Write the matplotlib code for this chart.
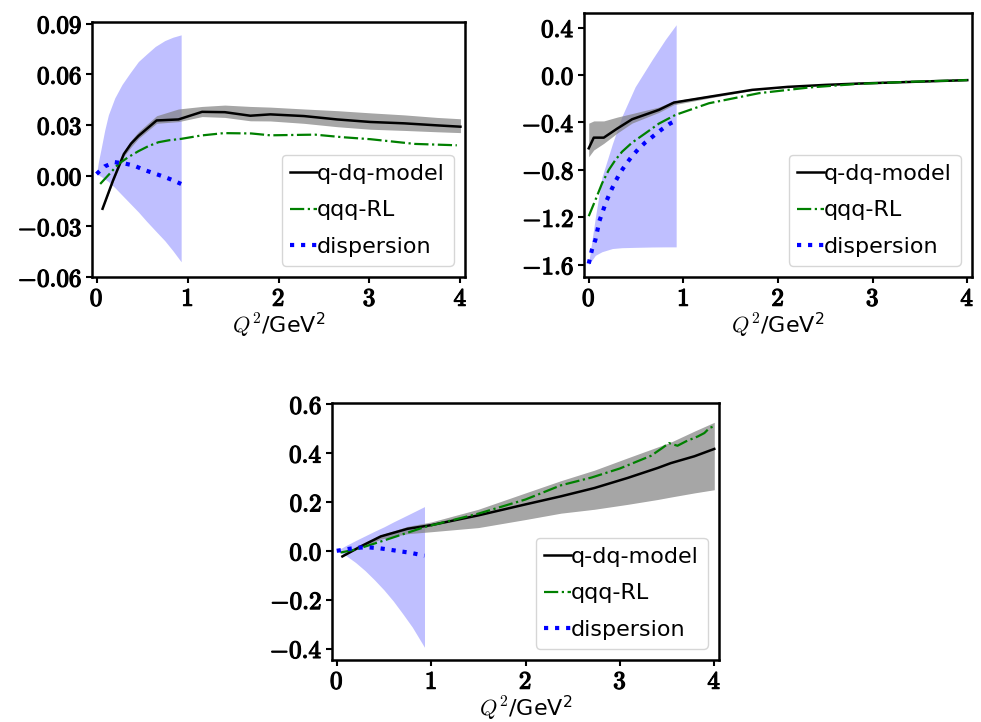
"""Form factor comparison: q-dq model, qqq-RL and dispersion results in three panels"""
import matplotlib.pyplot as plt
import matplotlib.patheffects as pe
import numpy as np
from matplotlib.ticker import FuncFormatter, FixedLocator

plt.rcParams['mathtext.fontset'] = 'cm'
plt.rcParams['font.family'] = 'DejaVu Sans'

# ---- panel (a) ----
a_disp_x = [0.0, 0.02, 0.05, 0.09, 0.13, 0.20, 0.28, 0.37, 0.46, 0.55, 0.645, 0.75, 0.84, 0.93]
a_disp_hi = [0.001, 0.008, 0.016, 0.027, 0.036, 0.046, 0.054, 0.061, 0.0676, 0.072, 0.0765,
             0.080, 0.082, 0.0834]
a_disp_lo = [0.001, 0.0005, -0.0005, -0.002, -0.0035, -0.007, -0.0115, -0.0165, -0.0215,
             -0.027, -0.0325, -0.0385, -0.0445, -0.051]
a_dcurve_x = [0.0, 0.09, 0.2, 0.31, 0.41, 0.52, 0.62, 0.74, 0.83, 0.93]
a_dcurve_y = [0.001, 0.0055, 0.008, 0.0072, 0.006, 0.0035, 0.0016, -0.0006, -0.0025, -0.0049]
a_qdq_x = [0.066, 0.18, 0.30, 0.38, 0.46, 0.66, 0.90, 1.16, 1.41, 1.69, 1.91, 2.28, 2.645, 3.01,
           3.38, 3.74, 4.0]
a_qdq_y = [-0.0196, -0.003, 0.0128, 0.019, 0.0235, 0.0327, 0.0333, 0.0378, 0.0376, 0.0355,
           0.0363, 0.0353, 0.0333, 0.0318, 0.031, 0.0298, 0.029]
a_qdq_hi = [-0.0196, -0.002, 0.0145, 0.021, 0.026, 0.0355, 0.0395, 0.041, 0.0418, 0.041, 0.0406,
            0.0395, 0.0385, 0.0372, 0.036, 0.0345, 0.0337]
a_qdq_lo = [-0.0196, -0.004, 0.0115, 0.017, 0.022, 0.031, 0.032, 0.035, 0.0345, 0.0325, 0.0324,
            0.031, 0.029, 0.0275, 0.0268, 0.026, 0.0255]
a_qqq_x = [0.04, 0.15, 0.24, 0.35, 0.46, 0.57, 0.68, 0.8, 0.93, 1.15, 1.4, 1.7, 1.91, 2.4, 2.7,
           3.01, 3.5, 3.96]
a_qqq_y = [-0.0049, 0.0015, 0.0069, 0.011, 0.0145, 0.0175, 0.0198, 0.021, 0.0218, 0.0238,
           0.0252, 0.025, 0.0239, 0.0243, 0.0228, 0.0216, 0.0188, 0.018]

# ---- panel (b) ----
b_disp_x = [0.0, 0.035, 0.07, 0.14, 0.25, 0.35, 0.49, 0.67, 0.81, 0.924]
b_disp_hi = [-1.58, -1.39, -1.2, -0.86, -0.58, -0.35, -0.10, 0.13, 0.30, 0.424]
b_disp_lo = [-1.60, -1.56, -1.52, -1.49, -1.463, -1.456, -1.453, -1.45, -1.449, -1.449]
b_dcurve_x = [0.0, 0.035, 0.07, 0.113, 0.183, 0.23, 0.275, 0.328, 0.388, 0.448, 0.522, 0.6,
              0.69, 0.769, 0.857, 0.92]
b_dcurve_y = [-1.59, -1.47, -1.39, -1.23, -1.07, -0.984, -0.908, -0.829, -0.758, -0.694,
              -0.626, -0.567, -0.51, -0.46, -0.41, -0.385]
b_qdq_x = [0.0, 0.053, 0.159, 0.3, 0.458, 0.741, 0.9, 1.3, 1.728, 2.1, 2.505, 2.85, 3.21, 3.6,
           4.0]
b_qdq_y = [-0.618, -0.528, -0.528, -0.452, -0.373, -0.294, -0.232, -0.18, -0.125, -0.1, -0.083,
           -0.072, -0.063, -0.053, -0.043]
b_qdq_hi = [-0.406, -0.387, -0.387, -0.355, -0.325, -0.27, -0.218, -0.168, -0.12, -0.096,
            -0.08, -0.07, -0.061, -0.052, -0.042]
b_qdq_lo = [-0.689, -0.632, -0.576, -0.49, -0.405, -0.315, -0.25, -0.19, -0.13, -0.104, -0.086,
            -0.074, -0.065, -0.055, -0.045]
b_qqq_x = [0.0, 0.07, 0.141, 0.212, 0.282, 0.353, 0.458, 0.599, 0.741, 0.917, 1.27, 1.80, 2.33,
           2.857, 3.386, 4.0]
b_qqq_y = [-1.19, -1.055, -0.913, -0.80, -0.716, -0.646, -0.570, -0.491, -0.41, -0.336, -0.238,
           -0.153, -0.105, -0.074, -0.057, -0.043]

# ---- panel (c) ----
c_disp_x = [0.0, 0.1, 0.2, 0.3, 0.4, 0.5, 0.6, 0.7, 0.8, 0.93]
c_disp_hi = [0.0, 0.022, 0.042, 0.061, 0.080, 0.098, 0.118, 0.137, 0.156, 0.181]
c_disp_lo = [0.0, -0.02, -0.048, -0.081, -0.119, -0.16, -0.206, -0.258, -0.312, -0.395]
c_dcurve_x = [0.0, 0.13, 0.235, 0.34, 0.46, 0.57, 0.67, 0.78, 0.88, 0.93]
c_dcurve_y = [0.0, 0.008, 0.013, 0.014, 0.01, 0.004, -0.002, -0.008, -0.016, -0.02]
c_qdq_x = [0.06, 0.254, 0.467, 0.75, 1.0, 1.5, 2.0, 2.375, 2.73, 3.08, 3.4, 3.54, 3.79, 4.0]
c_qdq_y = [-0.023, 0.018, 0.059, 0.09, 0.105, 0.145, 0.19, 0.223, 0.257, 0.298, 0.339, 0.359,
           0.387, 0.417]
c_qdq_hi = [-0.023, 0.022, 0.065, 0.10, 0.118, 0.17, 0.237, 0.287, 0.33, 0.38, 0.425, 0.445,
            0.49, 0.526]
c_qdq_lo = [-0.023, 0.014, 0.048, 0.07, 0.078, 0.095, 0.128, 0.154, 0.17, 0.19, 0.21, 0.22,
            0.237, 0.25]
c_qqq_x = [0.04, 0.2, 0.467, 0.93, 1.5, 2.0, 2.375, 2.7, 3.0, 3.33, 3.45, 3.52, 3.61, 3.70,
           3.825, 3.895, 3.95, 4.0]
c_qqq_y = [-0.007, 0.005, 0.038, 0.097, 0.152, 0.21, 0.268, 0.30, 0.337, 0.389, 0.421, 0.441,
           0.430, 0.448, 0.468, 0.482, 0.503, 0.51]

panels = [
    dict(rect=(92, 22, 465, 277), ylim=(-0.06, 0.091), yticks=[-0.06, -0.03, 0.0, 0.03, 0.06, 0.09],
         fmt='%.2f',
         disp=(a_disp_x, a_disp_lo, a_disp_hi), dcurve=(a_dcurve_x, a_dcurve_y),
         qdq=(a_qdq_x, a_qdq_y, a_qdq_lo, a_qdq_hi), qqq=(a_qqq_x, a_qqq_y)),
    dict(rect=(584, 13, 972, 277), ylim=(-1.703, 0.523), yticks=[-1.6, -1.2, -0.8, -0.4, 0.0, 0.4],
         fmt='%.1f',
         disp=(b_disp_x, b_disp_lo, b_disp_hi), dcurve=(b_dcurve_x, b_dcurve_y),
         qdq=(b_qdq_x, b_qdq_y, b_qdq_lo, b_qdq_hi), qqq=(b_qqq_x, b_qqq_y)),
    dict(rect=(332, 403, 719, 660), ylim=(-0.447, 0.605), yticks=[-0.4, -0.2, 0.0, 0.2, 0.4, 0.6],
         fmt='%.1f',
         disp=(c_disp_x, c_disp_lo, c_disp_hi), dcurve=(c_dcurve_x, c_dcurve_y),
         qdq=(c_qdq_x, c_qdq_y, c_qdq_lo, c_qdq_hi), qqq=(c_qqq_x, c_qqq_y)),
]

W, H = 981, 722


def bold_fmt(fmt):
    return FuncFormatter(lambda v, pos: r'$\mathbf{%s}$' % (fmt % v))


def plot():
    fig = plt.figure(figsize=(W / 100, H / 100), dpi=100)
    heavy = [pe.withStroke(linewidth=0.9, foreground='black')]
    for p in panels:
        l, t, r, b = p['rect']
        ax = fig.add_axes([l / W, 1 - b / H, (r - l) / W, (b - t) / H])

        dx, dlo, dhi = p['disp']
        ax.fill_between(dx, dlo, dhi, color='blue', alpha=0.25, linewidth=0)
        qx, qy, qlo, qhi = p['qdq']
        ax.fill_between(qx, qlo, qhi, color='grey', alpha=0.7, linewidth=0)
        ax.plot(qx, qy, color='black', lw=1.8, label='q-dq-model')
        ax.plot(*p['qqq'], color='green', lw=1.6, ls='-.', label='qqq-RL')
        ax.plot(*p['dcurve'], color='blue', lw=3, ls=':', label='dispersion')

        ax.set_xlim(-0.05, 4.05)
        ax.set_ylim(*p['ylim'])
        ax.xaxis.set_major_locator(FixedLocator([0, 1, 2, 3, 4]))
        ax.yaxis.set_major_locator(FixedLocator(p['yticks']))
        ax.xaxis.set_major_formatter(bold_fmt('%d'))
        ax.yaxis.set_major_formatter(bold_fmt(p['fmt']))
        ax.tick_params(labelsize=18, width=1.5, length=4, pad=3)
        for lab in ax.get_xticklabels() + ax.get_yticklabels():
            lab.set_path_effects(heavy)
        for s in ax.spines.values():
            s.set_linewidth(1.8)
        ax.set_xlabel(r'$Q^2$/$\mathregular{GeV^2}$', fontsize=16, labelpad=0)
        ax.legend(loc='lower right', fontsize=16, handlelength=1.2, handletextpad=0.0,
                  labelspacing=0.75)

    plt.savefig('out.png', dpi=100)
    plt.close()


if __name__ == "__main__":
    plot()
